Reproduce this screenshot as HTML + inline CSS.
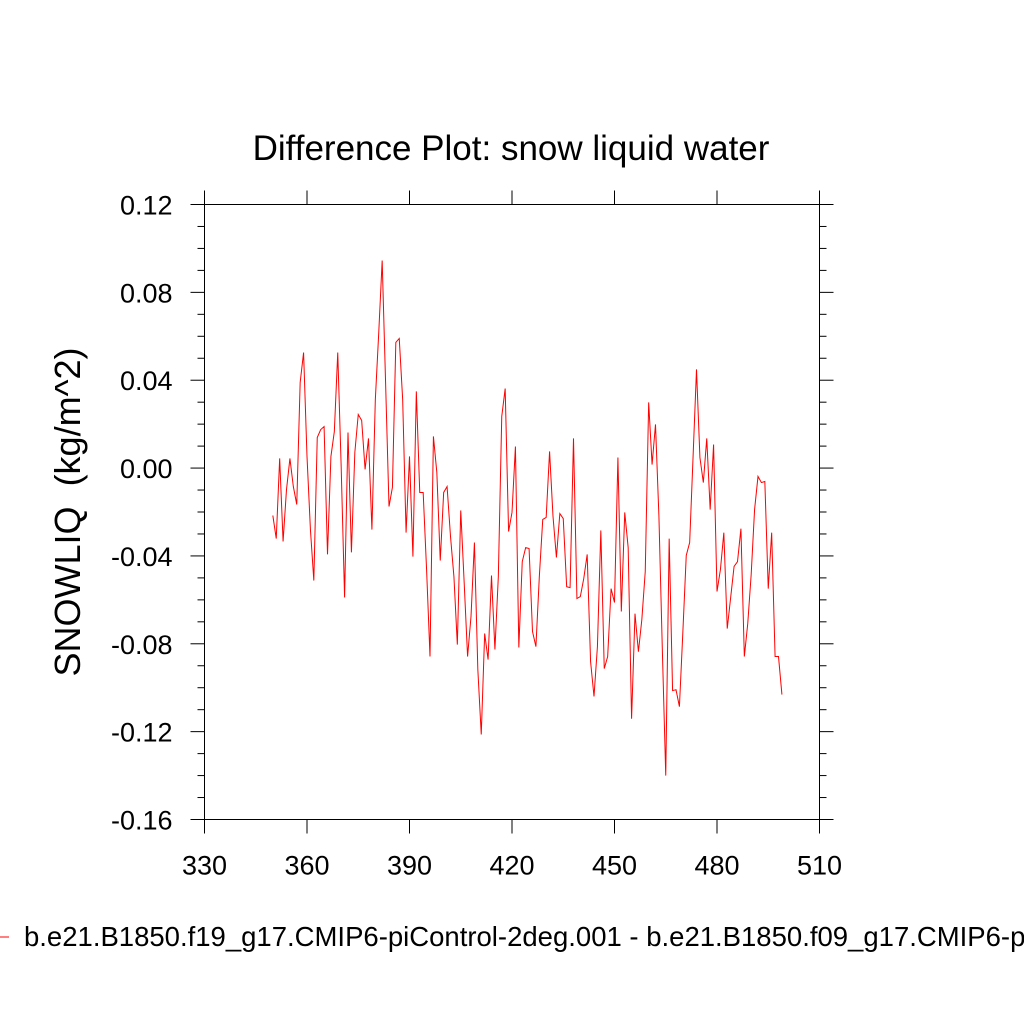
<!DOCTYPE html>
<html><head><meta charset="utf-8"><style>
html,body{margin:0;padding:0;background:#fff;width:1024px;height:1024px;overflow:hidden}
svg{display:block}
text{font-family:"Liberation Sans",sans-serif;fill:#000;white-space:pre}
</style></head><body>
<svg id="chart" width="1024" height="1024" viewBox="0 0 1024 1024" xmlns="http://www.w3.org/2000/svg">
<text x="511" y="160" font-size="35" text-anchor="middle">Difference Plot: snow liquid water</text>
<text transform="translate(80,512) rotate(-90)" font-size="36" text-anchor="middle" xml:space="preserve">SNOWLIQ  (kg/m^2)</text>
<g id="axes"></g>
<g id="series"></g>
<line x1="0" y1="937" x2="9" y2="937" stroke="#ff0000" stroke-width="1"/>
<text x="24" y="946" font-size="27.5">b.e21.B1850.f19_g17.CMIP6-piControl-2deg.001 - b.e21.B1850.f09_g17.CMIP6-piControl.001</text>
</svg>
<script>
const xStart = 350;
const yValues = [-0.0216,-0.0321,0.0044,-0.0334,-0.0098,0.0044,-0.0084,-0.0166,0.0390,0.0526,
0.0053,-0.0280,-0.0512,0.0139,0.0175,0.0189,-0.0393,0.0053,0.0166,0.0526,
0.0007,-0.0589,0.0162,-0.0384,0.0071,0.0244,0.0217,-0.0006,0.0135,-0.0280,
0.0312,0.0617,0.0945,0.0390,-0.0175,-0.0088,0.0572,0.0590,0.0312,-0.0294,
0.0053,-0.0403,0.0349,-0.0111,-0.0111,-0.0462,-0.0858,0.0144,-0.0020,-0.0421,
-0.0111,-0.0084,-0.0311,-0.0494,-0.0804,-0.0193,-0.0521,-0.0858,-0.0676,-0.0339,
-0.0917,-0.1213,-0.0753,-0.0872,-0.0489,-0.0826,-0.0494,0.0235,0.0362,-0.0289,
-0.0202,0.0098,-0.0817,-0.0426,-0.0362,-0.0366,-0.0744,-0.0813,-0.0494,-0.0234,
-0.0225,0.0076,-0.0220,-0.0407,-0.0207,-0.0230,-0.0540,-0.0544,0.0135,-0.0594,
-0.0585,-0.0503,-0.0393,-0.0881,-0.1040,-0.0813,-0.0284,-0.0913,-0.0858,-0.0549,
-0.0612,0.0048,-0.0653,-0.0202,-0.0362,-0.1141,-0.0663,-0.0836,-0.0690,-0.0471,
0.0299,0.0016,0.0199,-0.0220,-0.0826,-0.1400,-0.0321,-0.1013,-0.1009,-0.1086,
-0.0749,-0.0398,-0.0339,0.0053,0.0449,0.0048,-0.0066,0.0135,-0.0189,0.0107,
-0.0562,-0.0462,-0.0294,-0.0731,-0.0589,-0.0448,-0.0426,-0.0276,-0.0858,-0.0708,
-0.0485,-0.0189,-0.0038,-0.0066,-0.0061,-0.0549,-0.0294,-0.0858,-0.0858,-0.1031];
const xTicks = [330,360,390,420,450,480,510];
const yTicks = [0.12,0.08,0.04,0.00,-0.04,-0.08,-0.12,-0.16];
const yTickLabels = ["0.12","0.08","0.04","0.00","-0.04","-0.08","-0.12","-0.16"];

const X0=204.5,X1=819.5,Y0=204.5,Y1=819.5;
const xMin=330,xMax=510,yMin=-0.16,yMax=0.12;
function sx(v){return X0+(v-xMin)/(xMax-xMin)*(X1-X0);}
function sy(v){return Y1-(v-yMin)/(yMax-yMin)*(Y1-Y0);}
const NS="http://www.w3.org/2000/svg";
const axes=document.getElementById('axes');
function ln(x1,y1,x2,y2,name){
  const l=document.createElementNS(NS,'line');
  l.setAttribute('x1',x1);l.setAttribute('y1',y1);l.setAttribute('x2',x2);l.setAttribute('y2',y2);
  l.setAttribute('stroke','#000');l.setAttribute('stroke-width','1');
  
  
  axes.appendChild(l);
}
function tx(x,y,s,anchor,name){
  const t=document.createElementNS(NS,'text');
  t.setAttribute('x',x);t.setAttribute('y',y);t.setAttribute('font-size','27');t.setAttribute('text-anchor',anchor);
  t.textContent=s;
  
  
  axes.appendChild(t);
}
const frame=document.createElementNS(NS,'rect');
frame.setAttribute('x',X0);frame.setAttribute('y',Y0);frame.setAttribute('width',X1-X0);frame.setAttribute('height',Y1-Y0);
frame.setAttribute('fill','none');frame.setAttribute('stroke','#000');frame.setAttribute('stroke-width','1');


axes.appendChild(frame);
xTicks.forEach(v=>{
  const x=sx(v);
  ln(x,Y1,x,Y1+14,'x-tick');
  ln(x,Y0,x,Y0-14,'x-tick-top');
  tx(x,Y1+55,String(v),'middle','x-tick-label');
});
yTicks.forEach((v,i)=>{
  const y=sy(v);
  ln(X0-14,y,X0,y,'y-tick');
  ln(X1,y,X1+14,y,'y-tick-right');
  tx(X0-32,y+10,yTickLabels[i],'end','y-tick-label');
});
for(let k=0;k<=28;k++){
  if(k%4===0)continue;
  const y=sy(yMin+k*0.01);
  ln(X0-7,y,X0,y,'y-minor-tick');
  ln(X1,y,X1+7,y,'y-minor-tick-right');
}
const pts=yValues.map((v,i)=>sx(xStart+i).toFixed(2)+','+sy(v).toFixed(2)).join(' ');
const pl=document.createElementNS(NS,'polyline');
pl.setAttribute('points',pts);pl.setAttribute('fill','none');pl.setAttribute('stroke','#ff0000');pl.setAttribute('stroke-width','1');


document.getElementById('series').appendChild(pl);
</script>
</body></html>
